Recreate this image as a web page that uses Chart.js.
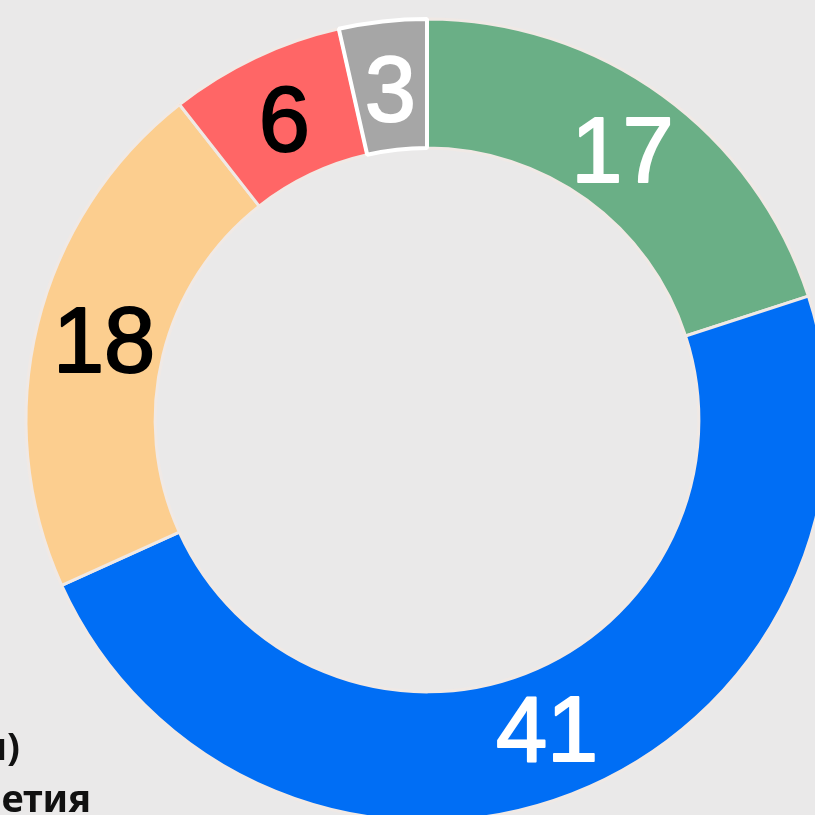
<!DOCTYPE html>
<html lang="ru">
<head>
  <meta charset="UTF-8">
  <title>Doughnut</title>
  <script src="https://cdn.jsdelivr.net/npm/chart.js"></script>
  <style>
    html, body { margin: 0; padding: 0; width: 815px; height: 815px; overflow: hidden; background: #eae9e9; }
    #wrap { position: absolute; left: 0; top: 0; width: 854px; height: 840px; }
    .side { position: absolute; font-family: "Noto Sans", sans-serif; font-weight: bold; font-size: 38px;
            color: #111; white-space: nowrap; text-align: right; line-height: 1; }
  </style>
</head>
<body>
  <div id="wrap"><canvas id="myChart" width="854" height="840"></canvas></div>
  <!-- cut-off ends of the side text -->
  <div class="side" style="right: 795px; top: 726px;">ы)</div>
  <div class="side" style="right: 724px; top: 778px;">етия</div>

  <script>
    // values, clockwise from the top
    const categories = ['Категория 1', 'Категория 2', 'Категория 3', 'Категория 4', 'Категория 5'];
    const values = [17, 41, 18, 6, 3];
    const sliceColors = ['#6aaf86', '#006ef5', '#fcce8f', '#ff6666', '#a6a6a6'];
    const labelColors = ['#ffffff', '#ffffff', '#000000', '#000000', '#ffffff'];
    const borderColors = ['#f0e9e5', '#f0e9e5', '#f0e9e5', '#f0e9e5', '#ffffff'];
    const borderWidths = [3, 3, 3, 3, 4];

    // draws the number in the middle of each slice
    const sliceLabels = {
      id: 'sliceLabels',
      afterDatasetsDraw(chart) {
        const ctx = chart.ctx;
        const meta = chart.getDatasetMeta(0);
        ctx.save();
        ctx.font = '92px "Liberation Sans", Arial, sans-serif';
        ctx.textAlign = 'center';
        ctx.textBaseline = 'middle';
        ctx.lineWidth = 2;
        ctx.lineJoin = 'round';
        meta.data.forEach((arc, i) => {
          const a = (arc.startAngle + arc.endAngle) / 2;
          const r = (arc.innerRadius + arc.outerRadius) / 2 - 4;
          const x = arc.x + Math.cos(a) * r;
          const y = arc.y + Math.sin(a) * r + 6;
          ctx.fillStyle = labelColors[i];
          ctx.strokeStyle = labelColors[i];
          ctx.fillText(String(values[i]), x, y);
          ctx.strokeText(String(values[i]), x, y);
        });
        ctx.restore();
      }
    };

    const ctx = document.getElementById('myChart').getContext('2d');
    const myChart = new Chart(ctx, {
      type: 'doughnut',
      data: {
        labels: categories,
        datasets: [{
          data: values,
          backgroundColor: sliceColors,
          borderColor: borderColors,
          borderWidth: borderWidths,
          hoverOffset: 0
        }]
      },
      options: {
        responsive: false,
        animation: false,
        radius: 401,
        cutout: '67.8%',
        layout: { padding: 0 },
        events: [],
        plugins: {
          legend: { display: false },
          tooltip: { enabled: false }
        }
      },
      plugins: [sliceLabels]
    });
  </script>
</body>
</html>
